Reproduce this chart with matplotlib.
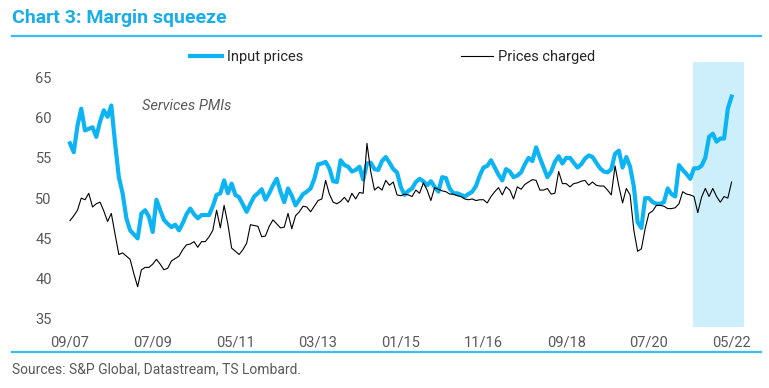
import matplotlib
matplotlib.use("Agg")
import matplotlib.pyplot as plt
from matplotlib.lines import Line2D
import numpy as np
import pandas as pd

plt.rcParams['font.family'] = ['Roboto', 'DejaVu Sans']

# monthly services PMIs, Sep 2007 .. May 2022
input_prices = [
    56.8, 55.7, 59.0, 61.1, 58.4, 58.6, 58.8, 57.6, 59.5, 60.9, 60.1, 61.5,
    56.8, 52.6, 50.6, 47.5, 46.0, 45.5, 45.0, 48.1, 48.5, 47.7, 45.8, 49.8,
    48.5, 47.3, 46.8, 46.4, 46.7, 46.0, 46.9, 48.0, 48.7, 48.0, 47.5, 47.9,
    47.9, 47.9, 49.0, 50.4, 50.6, 52.2, 50.6, 51.8, 50.4, 50.1, 49.2, 48.3,
    49.3, 50.2, 50.6, 51.1, 49.8, 50.6, 51.6, 52.4, 50.8, 49.5, 51.2, 50.3,
    49.1, 49.8, 50.5, 50.8, 51.2, 52.4, 54.2, 54.3, 54.5, 53.7, 52.1, 52.0,
    54.7, 54.1, 53.9, 53.3, 53.5, 53.9, 52.3, 54.3, 54.4, 53.6, 53.5, 54.6,
    55.1, 54.4, 53.6, 53.2, 51.4, 50.4, 50.9, 51.2, 52.0, 52.4, 52.1, 51.6,
    52.1, 51.4, 50.8, 52.6, 52.5, 51.2, 50.6, 50.6, 50.4, 50.2, 50.5, 50.8,
    51.5, 52.8, 53.8, 54.0, 54.7, 53.8, 52.9, 52.2, 53.6, 53.3, 52.6, 52.8,
    53.2, 54.2, 55.0, 54.6, 56.3, 55.0, 53.8, 52.6, 53.3, 54.5, 55.2, 54.3,
    55.0, 55.0, 54.4, 53.8, 54.2, 54.9, 55.3, 55.1, 54.4, 53.7, 53.3, 53.2,
    53.6, 55.5, 55.9, 53.8, 55.1, 53.9, 51.4, 47.0, 46.3, 50.0, 50.0, 49.5,
    49.3, 49.3, 49.5, 51.2, 50.5, 50.2, 54.1, 53.5, 53.0, 52.4, 53.7, 53.7,
    54.0, 55.0, 57.6, 58.0, 57.0, 57.4, 57.4, 61.1, 62.6,
]
prices_charged = [
    47.2, 47.8, 48.5, 50.0, 49.8, 50.6, 48.9, 49.3, 49.5, 48.4, 47.1, 48.1,
    45.5, 43.0, 43.2, 42.8, 42.4, 40.6, 39.0, 41.1, 41.4, 41.4, 41.8, 42.4,
    41.8, 41.1, 41.3, 42.2, 42.5, 42.8, 43.6, 44.2, 44.3, 44.6, 43.9, 44.6,
    44.6, 45.2, 46.0, 48.5, 46.3, 49.1, 46.8, 43.8, 43.4, 43.0, 43.6, 44.4,
    46.7, 46.6, 46.5, 45.2, 45.3, 46.5, 47.3, 46.8, 46.3, 46.4, 48.1, 46.2,
    47.8, 48.3, 49.0, 48.9, 48.3, 49.0, 49.7, 49.9, 52.2, 50.5, 49.5, 49.3,
    49.6, 50.1, 49.5, 50.6, 49.9, 50.7, 50.6, 56.8, 53.3, 51.0, 51.4, 51.0,
    52.2, 51.6, 52.0, 50.4, 50.3, 50.5, 50.4, 50.2, 51.0, 50.6, 51.9, 51.0,
    49.7, 51.3, 51.1, 50.9, 50.8, 50.5, 50.5, 50.3, 50.2, 49.9, 49.8, 49.9,
    49.7, 49.8, 49.8, 49.4, 50.2, 50.8, 51.3, 50.4, 51.4, 51.0, 49.9, 51.4,
    51.1, 51.7, 52.0, 52.3, 52.2, 51.0, 51.0, 51.2, 50.5, 50.6, 53.3, 51.8,
    51.8, 51.4, 51.8, 51.9, 52.1, 52.2, 51.6, 52.0, 51.6, 51.5, 51.5, 51.0,
    50.4, 54.0, 51.5, 49.4, 51.2, 50.4, 46.0, 43.4, 43.7, 46.2, 48.1, 48.4,
    49.1, 49.1, 49.0, 48.7, 48.7, 48.8, 49.3, 50.8, 50.5, 50.4, 50.2, 48.2,
    50.1, 51.2, 50.2, 51.2, 50.2, 49.5, 50.2, 50.0, 52.0,
]
months = pd.date_range("2007-09-01", periods=len(input_prices), freq="MS")
tick_every = 22
highlight_start = "2021-06-01"

blue = '#0DB4F3'
grey = '#595959'

fig = plt.figure(figsize=(7.69, 3.88), dpi=100)
ax = fig.add_axes([58.7 / 769, 1 - 327 / 388, (744 - 58.7) / 769, (327 - 62) / 388])

x = np.arange(len(months))
hl = months.get_loc(pd.Timestamp(highlight_start)) + 0.7
ax.axvspan(hl, 179.3, color='#CDEFFC', lw=0, zorder=0)
ax.plot(x, input_prices, color=blue, lw=3.0, solid_joinstyle='round', label='Input prices', zorder=2)
ax.plot(x, prices_charged, color='black', lw=0.8, label='Prices charged', zorder=3)

ax.set_xlim(-3, 179.3)
ax.set_ylim(34, 66.9)
ax.set_yticks([35, 40, 45, 50, 55, 60, 65])
ticks = x[::tick_every]
ax.set_xticks(ticks)
ax.set_xticklabels([months[i].strftime('%m/%y') for i in ticks])
for s in ax.spines.values():
    s.set_visible(False)
ax.tick_params(length=0, labelsize=10.5, colors=grey, pad=6)
ax.tick_params(axis='y', pad=5)

ax.text(0.121, 0.835, 'Services PMIs', transform=ax.transAxes, style='italic',
        fontsize=10.5, color=grey, va='center')

ax.legend(ncol=2, loc='center left', bbox_to_anchor=(190 / 769, 1 - 57 / 388),
          bbox_transform=fig.transFigure, frameon=False, fontsize=10.5,
          handlelength=2.2, handletextpad=0.35, columnspacing=10.8,
          borderpad=0, borderaxespad=0, labelcolor='#262626')

fig.text(12 / 769, 1 - 18 / 388, 'Chart 3: Margin squeeze', fontsize=14,
         fontweight='bold', color='#1AAEE8', va='center', ha='left')
for yy in (36, 352):
    fig.add_artist(Line2D([12 / 769, 761 / 769], [1 - yy / 388] * 2,
                          transform=fig.transFigure, color='#3BBDF2', lw=1.6))
fig.text(12 / 769, 1 - 369 / 388, 'Sources: S&P Global, Datastream, TS Lombard.',
         fontsize=10, color=grey, va='center', ha='left')

fig.savefig('out.png', dpi=100)
